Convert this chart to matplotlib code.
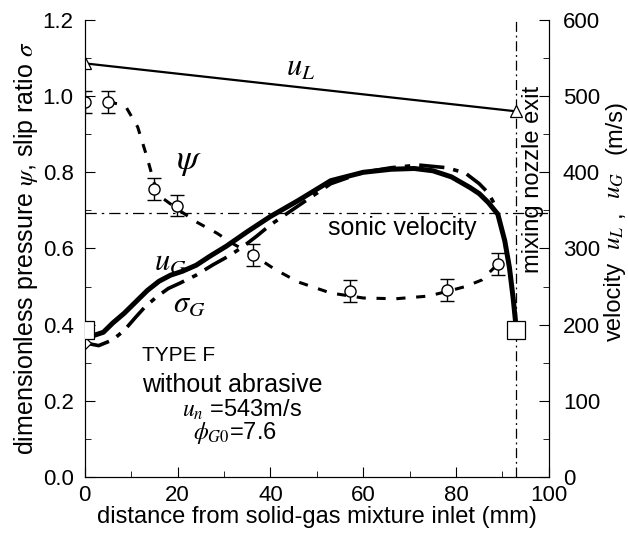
import numpy as np
import matplotlib.pyplot as plt
from matplotlib.ticker import MultipleLocator

plt.rcParams['font.family'] = ['Liberation Sans', 'DejaVu Sans']
plt.rcParams['mathtext.fontset'] = 'stix'

# liquid velocity u_L (m/s), straight line between inlet and exit
uL_x = [0, 93]
uL_v = [543, 480]

# gas velocity u_G (m/s)
uG_x = [0, 2, 4, 6, 8.5, 11, 13.5, 16, 18.5, 21, 24, 27, 30.5, 35, 40, 46, 53,
        60, 66, 71, 75, 79, 83, 85, 87, 89, 90.5, 91.5, 92.3, 93]
uG_v = [193, 186, 190, 202, 215, 230, 245, 257, 265, 270, 278, 290, 303, 322,
        342, 363, 389, 400, 404, 405, 402, 394, 380, 372, 360, 345, 310, 275, 235, 193]

# slip ratio sigma_G
sig_x = [0, 3, 6, 8.5, 11, 13, 15.5, 18, 20.5, 24, 27.6, 31, 34, 37, 40, 46, 53,
         60, 66, 72, 78, 82, 85, 87, 89]
sig_v = [0.352, 0.345, 0.36, 0.385, 0.42, 0.447, 0.473, 0.495, 0.509, 0.53, 0.557,
         0.58, 0.604, 0.632, 0.662, 0.712, 0.77, 0.80, 0.812, 0.819, 0.812, 0.798,
         0.77, 0.745, 0.70]

# dimensionless pressure psi: measured points and fitted curve
psi_x = [0, 5, 15, 19.8, 36.2, 57.1, 78, 89]
psi_v = [0.985, 0.985, 0.756, 0.712, 0.583, 0.488, 0.491, 0.559]
psi_err = [0.028, 0.028, 0.029, 0.028, 0.028, 0.029, 0.028, 0.028]
psi_cx = [5, 7, 9, 11.4, 13.4, 15, 17, 19.8, 24, 28.5, 32, 36, 41, 46, 53, 60,
          67, 74, 78, 82, 85.5, 89]
psi_cv = [0.985, 0.98, 0.969, 0.919, 0.84, 0.77, 0.73, 0.705, 0.67, 0.64, 0.612,
          0.585, 0.545, 0.512, 0.483, 0.47, 0.468, 0.475, 0.487, 0.50, 0.517, 0.559]

sonic = 346
exit_x = 93

fig = plt.figure(figsize=(6.28, 5.39), dpi=100)
ax = fig.add_axes([0.135, 0.115, 0.739, 0.848])
ax2 = ax.twinx()

ax.set_xlim(0, 100)
ax.set_ylim(0, 1.2)
ax2.set_ylim(0, 600)

# velocities on the right axis
ax2.plot(uL_x, uL_v, color='black', lw=1.6)
ax2.plot(uL_x, uL_v, ls='none', marker='^', ms=8, mfc='white', mec='black', mew=0.9)
ax2.plot(uG_x, uG_v, color='black', lw=3.6, solid_capstyle='round')
ax2.plot([0, exit_x], [uG_v[0], uG_v[-1]], ls='none', marker='s', ms=13,
         mfc='white', mec='black', mew=0.9, zorder=5)
ax2.axhline(sonic, color='black', lw=0.9, dashes=(9, 4, 2, 4))

# slip ratio and pressure on the left axis
ax.plot(sig_x, sig_v, color='black', lw=2.6, dashes=(7, 2.5, 1.5, 2.5))
ax.plot([0], [sig_v[0]], ls='none', marker='D', ms=6, mfc='white', mec='black',
        mew=0.9, zorder=5)
ax.plot(psi_cx, psi_cv, color='black', lw=2.2, dashes=(3, 3.5))
ax.errorbar(psi_x, psi_v, yerr=psi_err, fmt='o', ms=8, mfc='white', mec='black',
            mew=1.0, ecolor='black', elinewidth=1.0, capsize=5, capthick=1.0, zorder=6)
ax.axvline(exit_x, color='black', lw=0.9, dashes=(8, 3, 1.5, 3))

# annotations
ax.text(46.5, 1.075, r'$u_L$', fontsize=22, ha='center', va='center')
ax.text(22.5, 0.83, r'$\psi$', fontsize=26, ha='center', va='center')
ax.text(18.5, 0.565, r'$u_G$', fontsize=22, ha='center', va='center')
ax.text(22.5, 0.455, r'$\sigma_G$', fontsize=22, ha='center', va='center')
ax.text(68.5, 0.654, 'sonic velocity', fontsize=18, ha='center', va='center')
ax.text(96.6, 0.78, 'mixing nozzle exit', fontsize=17, rotation=90,
        ha='center', va='center')
ax.text(12.3, 0.32, 'TYPE F', fontsize=15, ha='left', va='center')
ax.text(12.3, 0.242, 'without abrasive', fontsize=18, ha='left', va='center')
ax.text(21, 0.176, r'$u_n$ =543m/s', fontsize=17, ha='left', va='center')
ax.text(23.3, 0.115, r'$\phi_{G0}$=7.6', fontsize=17, ha='left', va='center')

# axes styling
for a in (ax, ax2):
    a.spines['top'].set_visible(False)
ax.xaxis.set_major_locator(MultipleLocator(20))
ax.xaxis.set_minor_locator(MultipleLocator(10))
ax.yaxis.set_minor_locator(MultipleLocator(0.1))
ax2.yaxis.set_major_locator(MultipleLocator(100))
ax2.yaxis.set_minor_locator(MultipleLocator(50))
ax.set_yticks(np.arange(0, 1.21, 0.2))
ax.set_yticklabels(['%.1f' % v for v in np.arange(0, 1.21, 0.2)])
ax.tick_params(which='both', direction='in', labelsize=16)
ax.tick_params(which='major', length=7)
ax.tick_params(which='minor', length=4)
ax.tick_params(axis='y', pad=8)
ax.tick_params(axis='x', pad=6)
ax2.tick_params(which='both', direction='in', labelsize=16, pad=10)
ax2.tick_params(which='major', length=7)
ax2.tick_params(which='minor', length=4)

ax.set_xlabel('distance from solid-gas mixture inlet (mm)', fontsize=17, labelpad=0)
ax.set_ylabel(r'dimensionless pressure $\psi$, slip ratio $\sigma$', fontsize=18,
              labelpad=2)

# right label built from pieces so the italic symbols can be larger
for txt, yp, fs, xb in [('velocity', 301, 17, 621), (r'$u_L$', 238, 18, 621),
                        (',', 214, 17, 621), (r'$u_G$', 185, 18, 621),
                        ('(m/s)', 127, 17, 621)]:
    fig.text(xb / 628, 1 - yp / 539, txt, fontsize=fs, rotation=90,
             rotation_mode='anchor', ha='center', va='baseline')

fig.savefig('out.png', dpi=100)
